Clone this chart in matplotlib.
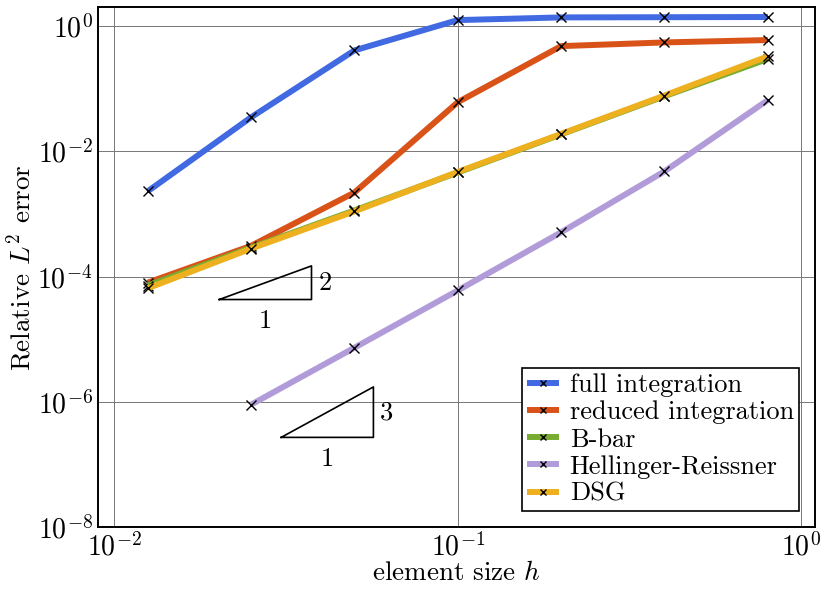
import matplotlib
matplotlib.use("Agg")
import matplotlib.pyplot as plt
import numpy as np

plt.rcParams['font.family'] = 'serif'
plt.rcParams['font.serif'] = ['cmr10']
plt.rcParams['mathtext.fontset'] = 'cm'
plt.rcParams['axes.formatter.use_mathtext'] = True
plt.rcParams['axes.unicode_minus'] = False

h = [0.0125, 0.025, 0.05, 0.1, 0.2, 0.4, 0.8]
full_integration = [2.3e-3, 3.5e-2, 0.41, 1.25, 1.38, 1.39, 1.40]
reduced_integration = [8.0e-5, 3.1e-4, 2.2e-3, 6.1e-2, 0.48, 0.55, 0.60]
b_bar = [7.2e-5, 2.9e-4, 1.14e-3, 4.6e-3, 1.87e-2, 7.6e-2, 0.30]
hellinger_reissner_h = [0.025, 0.05, 0.1, 0.2, 0.4, 0.8]
hellinger_reissner = [9.0e-7, 7.3e-6, 6.0e-5, 5.1e-4, 4.8e-3, 6.6e-2]
dsg = [6.5e-5, 2.8e-4, 1.1e-3, 4.7e-3, 1.9e-2, 7.8e-2, 0.33]

labels = ["full integration", "reduced integration", "B-bar",
          "Hellinger-Reissner", "DSG"]
colors = ["#4169e1", "#d95319", "#77ac30", "#b19cd9", "#edb120"]

# slope triangles: (x0, x1, y0, slope)
tri2 = (0.0202, 0.0375, 4.3e-5, 2)
tri3 = (0.0306, 0.0568, 2.7e-7, 3)

fig = plt.figure(figsize=(8.3, 5.95), dpi=100)
ax = fig.add_axes([0.1185, 0.1143, 0.8635, 0.8734])

series = [(h, full_integration), (h, reduced_integration), (h, b_bar),
          (hellinger_reissner_h, hellinger_reissner), (h, dsg)]
for (xs, ys), lab, c in zip(series, labels, colors):
    ax.plot(xs, ys, color=c, lw=4.3, marker='x', ms=7, mec='black',
            mew=1.0, label=lab, solid_capstyle='butt')

for (x0, x1, y0, s) in (tri2, tri3):
    y1 = y0 * (x1 / x0) ** s
    ax.plot([x0, x1, x1, x0], [y0, y0, y1, y0], color='black', lw=1.2)
    xm = np.sqrt(x0 * x1)
    ym = np.sqrt(y0 * y1)
    ax.annotate("1", (xm, y0), xytext=(0, -7), textcoords='offset points',
                ha='center', va='top', fontsize=19)
    ax.annotate(str(s), (x1, ym), xytext=(5, 0), textcoords='offset points',
                ha='left', va='center', fontsize=19)

ax.set_xscale('log')
ax.set_yscale('log')
ax.set_xlim(0.00898, 1.098)
ax.set_ylim(1e-8, 2.0)
ax.set_xticks([1e-2, 1e-1, 1e0])
ax.set_yticks([1e-8, 1e-6, 1e-4, 1e-2, 1e0])
ax.minorticks_off()
ax.tick_params(length=0, labelsize=20, pad=4)
ax.grid(True, color='#777777', lw=0.7)
for sp in ax.spines.values():
    sp.set_linewidth(1.4)
ax.set_xlabel("element size $h$", fontsize=19.5, labelpad=0)
ax.set_ylabel("Relative $L^2$ error", fontsize=19.5, labelpad=2)

leg = ax.legend(loc='lower right', fontsize=19, frameon=True, fancybox=False,
                edgecolor='black', framealpha=1, handlelength=1.2,
                handletextpad=0.4, borderpad=0.2, labelspacing=0.13,
                borderaxespad=0.6)
leg.get_frame().set_linewidth(1.2)
for ln in leg.get_lines():
    ln.set_markersize(5)

fig.savefig("out.png", dpi=100)
